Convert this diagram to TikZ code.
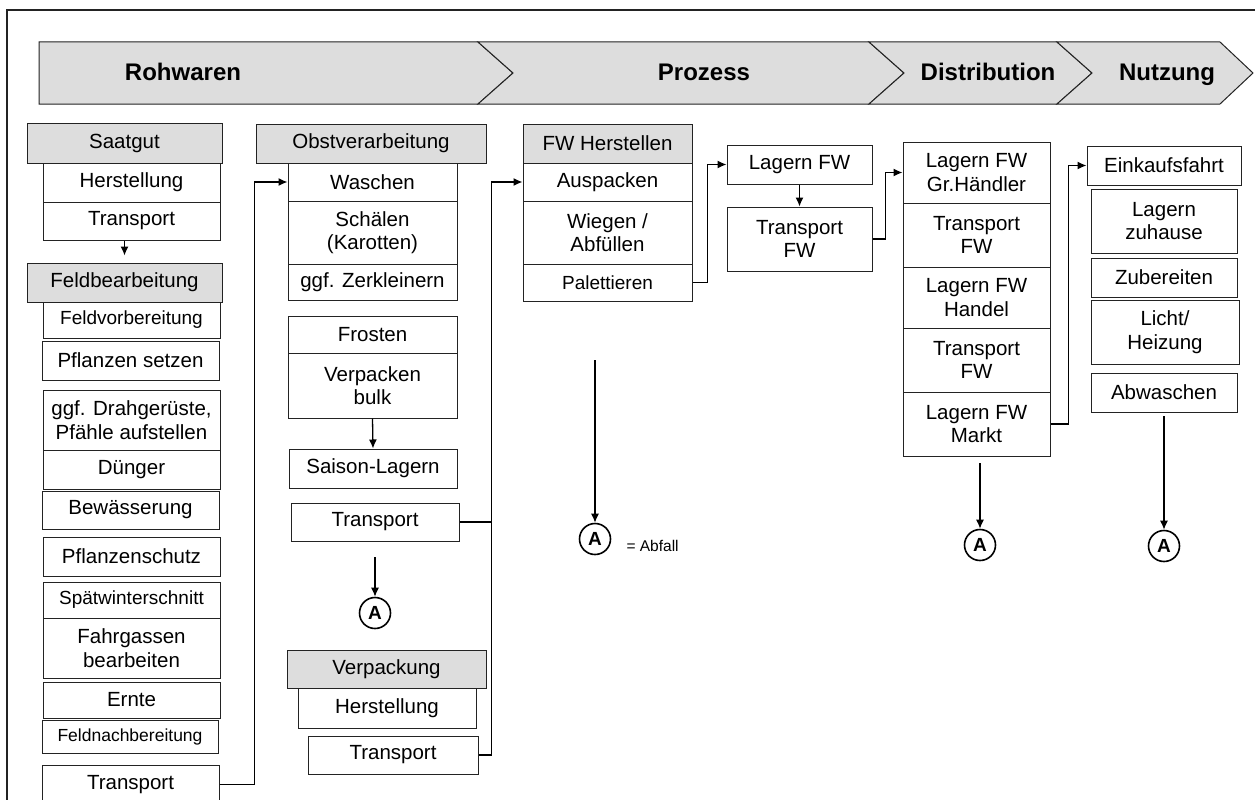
\documentclass[tikz,border=0pt]{standalone}
\usepackage{fontspec}
\setmainfont{Liberation Sans}
\usetikzlibrary{arrows.meta}
\definecolor{boxgray}{RGB}{221,221,221}
\definecolor{linegray}{RGB}{35,35,35}
\tikzset{arrow/.style={->, >={Latex[length=9pt,width=8pt]}}}
\tikzset{
  box/.style={draw=linegray, line width=1pt, fill=white, align=center, inner sep=0pt,
    font=\fontsize{20.5}{23.5}\selectfont},
  head/.style={box, fill=boxgray},
  smalltext/.style={font=\fontsize{19}{22}\selectfont},
  tinytext/.style={font=\fontsize{17.5}{20}\selectfont},
  waste/.style={circle, draw, line width=1.6pt, minimum size=31pt, inner sep=0pt,
    font=\fontsize{19}{19}\selectfont\bfseries},
  phase/.style={draw=linegray, line width=1pt, fill=boxgray},
  phaselabel/.style={font=\fontsize{24}{24}\selectfont\bfseries, text height=17pt, text depth=5pt},
  link/.style={line width=1.3pt},
}

\begin{document}
\begin{tikzpicture}[x=1pt, y=-1pt]
  \useasboundingbox (0,0) rectangle (1255,800);
  \clip (0,0) rectangle (1255,800);
  % frame
  \draw[linegray, line width=1.2pt] (7,10) rectangle (1275,820);

  % phases
  \draw[phase] (39,42) -- (478,42) -- (513,73) -- (478,104) -- (39,104) -- cycle;
  \draw[phase] (478,42) -- (869,42) -- (904,73) -- (869,104) -- (478,104) -- (513,73) -- cycle;
  \draw[phase] (869,42) -- (1057,42) -- (1092,73) -- (1057,104) -- (869,104) -- (904,73) -- cycle;
  \draw[phase] (1057,42) -- (1220,42) -- (1253,73) -- (1220,104) -- (1057,104) -- (1092,73) -- cycle;
  \node[phaselabel] (rohwaren) at (183,75) {Rohwaren};
  \node[phaselabel] (prozess) at (704,75) {Prozess};
  \node[phaselabel] (distrib) at (988,75) {Distribution};
  \node[phaselabel] (nutzung) at (1167,75) {Nutzung};

  % Rohwaren: Saatgut / Feldbearbeitung
  \node[head, minimum width=195, minimum height=40] (saatgut) at (124.5,143) {Saatgut};
  \node[box, minimum width=177, minimum height=39] (herst1) at (131.5,182.5) {Herstellung};
  \node[box, minimum width=177, minimum height=38] (trans1) at (131.5,221) {Transport};
  \node[head, minimum width=195, minimum height=39] (feld) at (124.5,282.5) {Feldbearbeitung};
  \node[box, smalltext, minimum width=177, minimum height=36] (feldvor) at (131.5,320) {Feldvorbereitung};
  \node[box, minimum width=177, minimum height=39] (pflanzen) at (130.5,360.5) {Pflanzen setzen};
  \node[box, minimum width=177, minimum height=60] (draht) at (131.5,420) {ggf. Drahgerüste,\\Pfähle aufstellen};
  \node[box, minimum width=177, minimum height=39] (duenger) at (131.5,469.5) {Dünger};
  \node[box, minimum width=177, minimum height=38] (bewaess) at (130.5,510) {Bewässerung};
  \node[box, minimum width=177, minimum height=39] (pschutz) at (131.5,556.5) {Pflanzenschutz};
  \node[box, smalltext, minimum width=177, minimum height=36] (schnitt) at (131.5,600) {Spätwinterschnitt};
  \node[box, minimum width=177, minimum height=60] (fahrg) at (131.5,648) {Fahrgassen\\bearbeiten};
  \node[box, minimum width=177, minimum height=36] (ernte) at (131.5,700) {Ernte};
  \node[box, tinytext, minimum width=176, minimum height=33] (feldnach) at (130,736.5) {Feldnachbereitung};
  \node[box, minimum width=177, minimum height=39] (trans2) at (130.5,784.5) {Transport};

  % Obstverarbeitung / Verpackung
  \node[head, minimum width=230, minimum height=39] (obst) at (371,143.5) {Obstverarbeitung};
  \node[box, minimum width=169, minimum height=38] (waschen) at (372.5,182) {Waschen};
  \node[box, minimum width=169, minimum height=63] (schaelen) at (372.5,232.5) {Schälen\\(Karotten)};
  \node[box, minimum width=169, minimum height=36] (zerkl) at (372.5,282) {ggf. Zerkleinern};
  \node[box, minimum width=169, minimum height=37] (frosten) at (372.5,334.5) {Frosten};
  \node[box, minimum width=169, minimum height=65] (bulk) at (372.5,385.5) {Verpacken\\bulk};
  \node[box, minimum width=168, minimum height=39] (saison) at (373,468.5) {Saison-Lagern};
  \node[box, minimum width=168, minimum height=38] (trans3) at (375,522) {Transport};
  \node[head, minimum width=199, minimum height=38] (verpack) at (386.5,669) {Verpackung};
  \node[box, minimum width=178, minimum height=40] (herst2) at (387,708) {Herstellung};
  \node[box, minimum width=170, minimum height=38] (trans4) at (393,755) {Transport};

  % FW Herstellen
  \node[head, minimum width=169, minimum height=39] (fwherst) at (607.5,143.5) {FW Herstellen};
  \node[box, minimum width=169, minimum height=38] (auspack) at (607.5,182) {Auspacken};
  \node[box, minimum width=169, minimum height=63] (wiegen) at (607.5,232.5) {Wiegen /\\Abfüllen};
  \node[box, smalltext, minimum width=169, minimum height=37] (palett) at (607.5,282.5) {Palettieren};
  \node[box, minimum width=145, minimum height=39] (lagerfw) at (799.5,164.5) {Lagern FW};
  \node[box, minimum width=145, minimum height=64] (transfw) at (799.5,239) {Transport\\FW};

  % Distribution
  \node[box, minimum width=147, minimum height=61] (grhaendler) at (976.5,172.5) {Lagern FW\\Gr.Händler};
  \node[box, minimum width=147, minimum height=64] (transfw1) at (976.5,235) {Transport\\FW};
  \node[box, minimum width=147, minimum height=61] (handel) at (976.5,297.5) {Lagern FW\\Handel};
  \node[box, minimum width=147, minimum height=64] (transfw2) at (976.5,360) {Transport\\FW};
  \node[box, minimum width=147, minimum height=64] (markt) at (976.5,424) {Lagern FW\\Markt};

  % Nutzung
  \node[box, minimum width=154, minimum height=39] (einkauf) at (1164,165.5) {Einkaufsfahrt};
  \node[box, minimum width=146, minimum height=64] (zuhause) at (1164,221) {Lagern\\zuhause};
  \node[box, minimum width=146, minimum height=39] (zubereit) at (1164,277.5) {Zubereiten};
  \node[box, minimum width=148, minimum height=64] (licht) at (1165,332) {Licht/\\Heizung};
  \node[box, minimum width=146, minimum height=39] (abwasch) at (1164,392.5) {Abwaschen};

  % Abfall
  \node[waste] (abf1) at (375,613) {A};
  \node[waste] (abf2) at (595,539) {A};
  \node[waste] (abf3) at (980,545) {A};
  \node[waste] (abf4) at (1164,546) {A};
  \node[anchor=west, font=\fontsize{15.5}{16}\selectfont] (legende) at (623,546) {= Abfall};
  \coordinate (w1) at (375,557);
  \coordinate (w2) at (595,360);
  \coordinate (w3) at (980,463);
  \coordinate (w4) at (1164,416);

  % connectors
  \draw[arrow, link] (trans1.south -| feld.north) -- ([yshift=7pt]feld.north);
  \draw[arrow, link] (trans2.east) -- ++(35,0) |- (waschen.west);
  \draw[arrow, link] (bulk.south) -- (saison.north);
  \draw[link] (trans3.east) -- ++(32,0);
  \draw[arrow, link] (trans4.east) -- ++(13,0) |- (auspack.west);
  \draw[arrow, link] (palett.east) -- ++(15,0) |- (lagerfw.west);
  \draw[arrow, link] (lagerfw.south) -- (transfw.north);
  \draw[arrow, link] (transfw.east) -- ++(13,0) |- (grhaendler.west);
  \draw[arrow, link] (markt.east) -- ++(18,0) |- (einkauf.west);
  \draw[arrow, link] (w1) -- (abf1.north);
  \draw[arrow, link] (w2) -- (abf2.north);
  \draw[arrow, link] (w3) -- (abf3.north);
  \draw[arrow, link] (w4) -- (abf4.north);
\end{tikzpicture}
\end{document}
